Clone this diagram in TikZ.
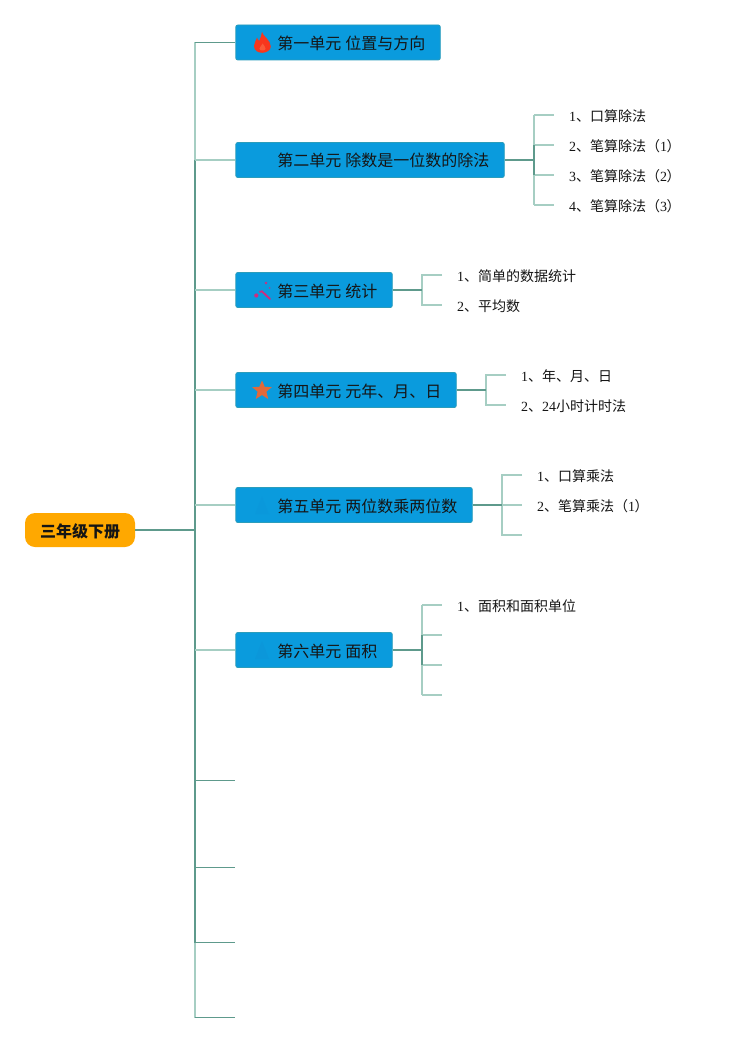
\documentclass[tikz,border=0pt]{standalone}
\usepackage{fontspec}
\setmainfont{Liberation Serif}
\newfontfamily\cjk{Noto Sans CJK SC}
\definecolor{boxblue}{HTML}{0A9BDD}
\definecolor{boxedge}{HTML}{2B9DBB}
\definecolor{rootor}{HTML}{FFA800}
\definecolor{lnd}{HTML}{5E9A8C}
\definecolor{lnl}{HTML}{A6CEC3}
\definecolor{ink}{HTML}{151515}
\definecolor{flame}{HTML}{F8361C}
\definecolor{flamein}{HTML}{F95A38}
\definecolor{wand}{HTML}{D02C80}
\definecolor{starc}{HTML}{E2693A}
\definecolor{faint}{HTML}{0B97DA}
\tikzset{
  x=1pt,y=-1pt,
  unitbox/.style={draw=boxedge,line width=0.8pt,fill=boxblue,rounded corners=2pt,anchor=west,minimum height=35pt,inner xsep=0pt,inner ysep=0pt,align=left,text=ink,font=\cjk\fontsize{16}{18}\selectfont},
  rootbox/.style={fill=rootor,rounded corners=10pt,minimum width=110pt,minimum height=34pt,inner sep=0pt,text=ink,font=\cjk\bfseries\fontsize{16}{18}\selectfont},
  leaf/.style={anchor=west,inner sep=0pt,text=ink,font=\fontsize{14}{16}\selectfont},
  dk/.style={draw=lnd,line width=2pt},
  lt/.style={draw=lnl,line width=2pt},
  dkthin/.style={draw=lnd,line width=1pt},
  ltthin/.style={draw=lnl,line width=1.7pt},
}
\newcommand{\gap}{\hspace{4pt}}
\newcommand{\lowr}[1]{\raisebox{-1pt}[14pt][2pt]{#1}}
\newcommand{\bracknum}[1]{{\cjk （}#1{\cjk \kern-0.7pt ）}}
\begin{document}
\begin{tikzpicture}
\useasboundingbox[fill=white] (0,0) rectangle (741,1043);
% nodes
\node[rootbox] (root) at (80,530) {\lowr{三年级下册}};
\node[unitbox,text width=204.5pt] (u1) at (235.4,42.5) {\hspace*{41.6pt}\lowr{第一单元\gap 位置与方向}};
\node[unitbox,text width=268.5pt] (u2) at (235.4,160) {\hspace*{41.6pt}\lowr{第二单元\gap 除数是一位数的除法}};
\node[unitbox,text width=156.5pt] (u3) at (235.4,290) {\hspace*{41.6pt}\lowr{第三单元\gap 统计}};
\node[unitbox,text width=220.5pt] (u4) at (235.4,390) {\hspace*{41.6pt}\lowr{第四单元\gap 元年、月、日}};
\node[unitbox,text width=236.5pt] (u5) at (235.4,505) {\hspace*{41.6pt}\lowr{第五单元\gap 两位数乘两位数}};
\node[unitbox,text width=156.5pt] (u6) at (235.4,650) {\hspace*{41.6pt}\lowr{第六单元\gap 面积}};
% leaf labels
\node[leaf] (a1) at (569,116) {1{\cjk 、口算除法}};
\node[leaf] (a2) at (569,146) {2{\cjk 、笔算除法}\bracknum{1}};
\node[leaf] (a3) at (569,176) {3{\cjk 、笔算除法}\bracknum{2}};
\node[leaf] (a4) at (569,206) {4{\cjk 、笔算除法}\bracknum{3}};
\node[leaf] (b1) at (457,276) {1{\cjk 、简单的数据统计}};
\node[leaf] (b2) at (457,306) {2{\cjk 、平均数}};
\node[leaf] (c1) at (521,376) {1{\cjk 、年、月、日}};
\node[leaf] (c2) at (521,406) {2{\cjk 、}24{\cjk 小时计时法}};
\node[leaf] (d1) at (537,476) {1{\cjk 、口算乘法}};
\node[leaf] (d2) at (537,506) {2{\cjk 、笔算乘法}\bracknum{1}};
\node[leaf] (e1) at (457,606) {1{\cjk 、面积和面积单位}};
% trunk coordinates
\coordinate (t1) at (195,42.5);
\coordinate (t2) at (195,160);
\coordinate (t3) at (195,290);
\coordinate (t4) at (195,390);
\coordinate (t5) at (195,505);
\coordinate (t0) at (195,530);
\coordinate (t6) at (195,650);
\coordinate (t7) at (195,780);
\coordinate (t8) at (195,867.5);
\coordinate (t9) at (195,942.5);
\coordinate (t10) at (195,1017.5);
\coordinate (f7) at (235,780);
\coordinate (f8) at (235,867.5);
\coordinate (f9) at (235,942.5);
\coordinate (f10) at (235,1017.5);
% trunk
\draw[lt] (t1) -- (t2);
\draw[lt] (t9) -- (t10);
\draw[dk] (t2) -- (t9);
\draw[dk] (root.east) -- (t0);
\draw[dkthin] (t1) -- (u1.west);
\draw[ltthin] (t2) -- (u2.west);
\draw[ltthin] (t3) -- (u3.west);
\draw[ltthin] (t4) -- (u4.west);
\draw[ltthin] (t5) -- (u5.west);
\draw[ltthin] (t6) -- (u6.west);
\draw[dkthin] (t7) -- (f7);
\draw[dkthin] (t8) -- (f8);
\draw[dkthin] (t9) -- (f9);
\draw[dkthin] (t10) -- (f10);
% unit 2
\coordinate (s2) at (534,160);
\coordinate (s2a) at (534,115); \coordinate (e2a) at (554,115);
\coordinate (s2b) at (534,145); \coordinate (e2b) at (554,145);
\coordinate (s2c) at (534,175); \coordinate (e2c) at (554,175);
\coordinate (s2d) at (534,205); \coordinate (e2d) at (554,205);
\draw[ltthin] (s2a) -- (s2b) (s2c) -- (s2d);
\draw[ltthin] (s2a) -- (e2a) (s2b) -- (e2b) (s2c) -- (e2c) (s2d) -- (e2d);
\draw[dk] (s2b) -- (s2c);
\draw[dk] (u2.east) -- (s2);
% unit 3
\coordinate (s3) at (422,290);
\coordinate (s3a) at (422,275); \coordinate (e3a) at (442,275);
\coordinate (s3b) at (422,305); \coordinate (e3b) at (442,305);
\draw[ltthin] (e3a) -- (s3a) -- (s3b) -- (e3b);
\draw[dk] (u3.east) -- (s3);
% unit 4
\coordinate (s4) at (486,390);
\coordinate (s4a) at (486,375); \coordinate (e4a) at (506,375);
\coordinate (s4b) at (486,405); \coordinate (e4b) at (506,405);
\draw[ltthin] (e4a) -- (s4a) -- (s4b) -- (e4b);
\draw[dk] (u4.east) -- (s4);
% unit 5
\coordinate (s5) at (502,505);
\coordinate (s5a) at (502,475); \coordinate (e5a) at (522,475);
\coordinate (e5b) at (522,505);
\coordinate (s5c) at (502,535); \coordinate (e5c) at (522,535);
\draw[ltthin] (e5a) -- (s5a) -- (s5c) -- (e5c);
\draw[ltthin] (s5) -- (e5b);
\draw[dk] (u5.east) -- (s5);
% unit 6
\coordinate (s6) at (422,650);
\coordinate (s6a) at (422,605); \coordinate (e6a) at (442,605);
\coordinate (s6b) at (422,635); \coordinate (e6b) at (442,635);
\coordinate (s6c) at (422,665); \coordinate (e6c) at (442,665);
\coordinate (s6d) at (422,695); \coordinate (e6d) at (442,695);
\draw[ltthin] (s6a) -- (s6b) (s6c) -- (s6d);
\draw[ltthin] (s6a) -- (e6a) (s6b) -- (e6b) (s6c) -- (e6c) (s6d) -- (e6d);
\draw[dk] (s6b) -- (s6c);
\draw[dk] (u6.east) -- (s6);
% flame icon
\fill[flame] (262,31.8) .. controls (262.5,36) and (270.8,40) .. (270.8,46.5)
  .. controls (270.8,50.5) and (266,52.8) .. (262.3,52.8)
  .. controls (258,52.8) and (254,50.5) .. (254,46)
  .. controls (254,43) and (256,41) .. (257,37.5)
  .. controls (257.6,39) and (258.2,40.3) .. (259.2,41)
  .. controls (260.6,38) and (261.4,35) .. (262,31.8) -- cycle;
\fill[flamein] (262.6,43.5) .. controls (263.6,45.5) and (265.6,46.5) .. (265.6,48.8)
  .. controls (265.6,51) and (259.4,51) .. (259.4,48.8)
  .. controls (259.4,47) and (261.8,45.8) .. (262.6,43.5) -- cycle;
% wand icon
\draw[draw=wand,line width=1.9pt,line cap=round] (261.5,291) -- (270,299);
\fill[wand] (256.3,295.5) circle (2.1);
\fill[wand] (260,291.8) circle (1.2);
\fill[wand] (266,283) circle (1.4);
\fill[wand!70!boxblue] (269.5,288) circle (1);
% star icon
\fill[starc] (262,380.5)
  -- (264.7,386.8) -- (271.8,387.2) -- (266.4,391.6) -- (268.2,399)
  -- (262,395) -- (255.8,399) -- (257.6,391.6) -- (252.2,387.2) -- (259.3,386.8) -- cycle;
% faint icons
\fill[faint] (262,641) -- (269,659) -- (255,659) -- cycle;
\fill[faint,opacity=0.5] (262,496) -- (269,514) -- (255,514) -- cycle;
\end{tikzpicture}
\end{document}
